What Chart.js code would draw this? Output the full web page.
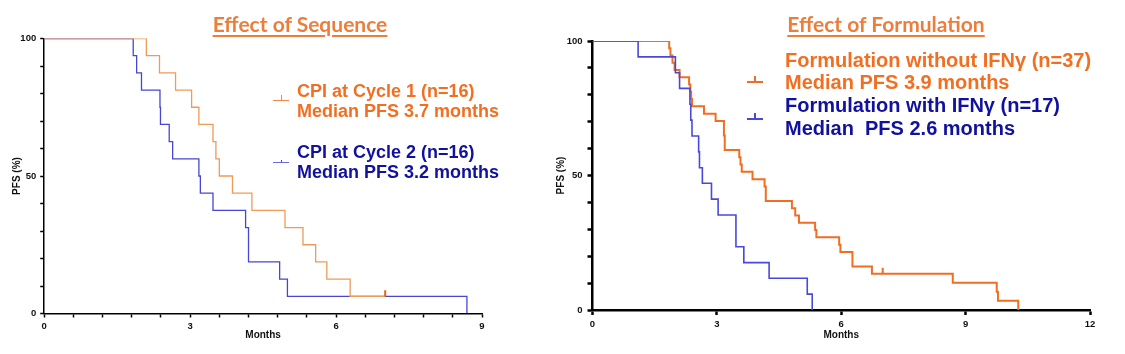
<!DOCTYPE html>
<html><head><meta charset="utf-8">
<script src="https://cdn.jsdelivr.net/npm/chart.js@4.4.1/dist/chart.umd.min.js"></script>
<style>
html,body{margin:0;padding:0;background:#fff;}
#wrap{position:relative;width:1125px;height:354px;overflow:hidden;background:#fff;}
canvas{position:absolute;top:0;}
#c1{left:0;}
#c2{left:548px;}
.title{position:absolute;font-family:Lato,'Liberation Sans',sans-serif;font-weight:700;font-size:21px;line-height:21px;color:#EE7D3A;text-decoration:underline;text-decoration-thickness:2px;text-underline-offset:3px;white-space:nowrap;transform:translateX(-50%);}
.leg{position:absolute;font-family:'Liberation Sans',Arial,sans-serif;font-weight:700;white-space:nowrap;}
.hl{position:absolute;height:1.5px;}
.vt{position:absolute;width:1.5px;}
</style>
</head>
<body>
<div id="wrap">
  <canvas id="c1" width="560" height="354"></canvas>
  <canvas id="c2" width="577" height="354"></canvas>

  <div class="title" style="left:300px;top:13px;">Effect of Sequence</div>
  <div class="title" style="left:886px;top:13px;">Effect of Formulation</div>

  <div class="leg" style="left:297px;top:81px;font-size:18px;line-height:20px;color:#F26F21;">CPI at Cycle 1 (n=16)<br>Median PFS 3.7 months</div>
  <div class="leg" style="left:297px;top:142px;font-size:18px;line-height:20px;color:#1111A0;">CPI at Cycle 2 (n=16)<br>Median PFS 3.2 months</div>
  <div class="hl" style="left:273px;top:99.5px;width:16px;background:#EE8A45;"></div>
  <div class="vt" style="left:280.5px;top:95px;height:5px;background:#EE8A45;"></div>
  <div class="hl" style="left:273px;top:161.5px;width:16px;background:#6A6AD8;"></div>
  <div class="vt" style="left:280.5px;top:160px;height:2px;background:#4646D2;"></div>

  <div class="leg" style="left:785px;top:48.6px;font-size:20px;line-height:22.8px;"><span style="color:#F26F21;">Formulation without IFNγ (n=37)<br>Median PFS 3.9 months</span><br><span style="color:#1111A0;">Formulation with IFNγ (n=17)<br>Median&nbsp; PFS 2.6 months</span></div>
  <div class="hl" style="left:747px;top:81px;width:16px;background:#EF6E22;"></div>
  <div class="vt" style="left:754.3px;top:76px;height:5px;background:#EF6E22;"></div>
  <div class="hl" style="left:747px;top:118px;width:16px;background:#4848DC;"></div>
  <div class="vt" style="left:754.3px;top:113px;height:5px;background:#4848DC;"></div>
</div>
<script>
// ---- Effect of Sequence (left) ----
const seqC1Times = [0, 2.10, 2.37, 2.70, 3.03, 3.18, 3.47, 3.53, 3.60, 3.87, 4.27, 4.95, 5.32, 5.58, 5.81, 6.29, 7.01];
const seqC1Surv  = [100, 93.75, 87.5, 81.25, 75, 68.75, 62.5, 56.25, 50, 43.75, 37.5, 31.25, 25, 18.75, 12.5, 6.25, 6.25];
const seqC1CensorTimes = [7.01];
const seqC1CensorSurv  = [6.25];
const seqC2Times = [0, 1.83, 1.90, 2.00, 2.38, 2.39, 2.57, 2.64, 3.18, 3.21, 3.47, 4.14, 4.20, 4.84, 5.00, 8.69];
const seqC2Surv  = [100, 93.75, 87.5, 81.25, 75, 68.75, 62.5, 56.25, 50, 43.75, 37.5, 31.25, 18.75, 12.5, 6.25, 0];
const seqXTicks = [0, 0.6, 1.2, 1.8, 2.4, 3, 3.6, 4.2, 4.8, 5.4, 6, 6.6, 7.2, 7.8, 8.4, 9];
const seqXLabels = [0, 3, 6, 9];

// ---- Effect of Formulation (right) ----
const formNoIfnTimes = [0, 1.85, 1.88, 1.93, 1.98, 2.10, 2.33, 2.36, 2.38, 2.40, 2.69, 2.97, 3.17, 3.19, 3.54, 3.57, 3.60, 3.86, 4.15, 4.18, 4.81, 4.89, 4.98, 5.37, 5.40, 5.95, 5.98, 6.27, 6.74, 7.00, 8.69, 9.75, 9.78, 10.27];
const formNoIfnSurv  = [100, 97.3, 94.6, 91.9, 89.2, 86.5, 83.8, 81.1, 78.4, 75.7, 73.0, 70.3, 64.9, 59.5, 56.8, 54.1, 51.4, 48.6, 45.9, 40.5, 37.8, 35.1, 32.4, 29.7, 27.0, 24.3, 21.6, 16.2, 13.5, 13.5, 10.1, 6.8, 3.4, 0];
const formNoIfnCensorTimes = [7.00];
const formNoIfnCensorSurv  = [13.5];
const formIfnTimes = [0, 1.10, 2.00, 2.10, 2.35, 2.37, 2.40, 2.56, 2.58, 2.65, 2.87, 3.03, 3.46, 3.65, 4.26, 5.18, 5.30];
const formIfnSurv  = [100, 94.1, 88.2, 82.4, 76.5, 70.6, 64.7, 58.8, 52.9, 47.1, 41.2, 35.3, 23.5, 17.6, 11.8, 5.9, 0];
const formXTicks = [0, 3, 6, 9, 12];
const formXLabels = [0, 3, 6, 9, 12];

const yTicks = [0, 10, 20, 30, 40, 50, 60, 70, 80, 90, 100];
const yLabels = [0, 50, 100];

Chart.defaults.font.family = "'Liberation Sans', Arial, sans-serif";
Chart.defaults.color = '#111';

function pts(xs, ys) { return xs.map((x, i) => ({ x: x, y: ys[i] })); }

function makeChart(id, cfg) {
  const tickFont = { size: 9.5, weight: 'bold' };
  const titleFont = { size: 10, weight: 'bold' };
  return new Chart(document.getElementById(id), {
    type: 'line',
    data: { datasets: cfg.datasets },
    options: {
      responsive: false,
      animation: false,
      events: [],
      layout: { padding: cfg.padding },
      plugins: { legend: { display: false }, tooltip: { enabled: false }, title: { display: false } },
      scales: {
        x: {
          type: 'linear', min: cfg.xMin, max: cfg.xMax,
          afterBuildTicks: s => { s.ticks = cfg.xTicks.map(v => ({ value: v })); },
          afterFit: s => { s.height = cfg.xHeight; },
          ticks: { autoSkip: false, maxRotation: 0, padding: cfg.xPad, font: tickFont, color: '#111',
                   callback: v => cfg.xLabels.includes(v) ? String(v) : '' },
          grid: { display: true, drawOnChartArea: false, drawTicks: true, tickLength: cfg.tickLen, tickWidth: cfg.axisW, tickColor: '#000' },
          border: { display: true, color: '#000', width: cfg.axisW },
          title: { display: true, text: 'Months', color: '#111', font: titleFont, padding: { top: 0, bottom: 13 } }
        },
        y: {
          type: 'linear', min: 0, max: 100,
          afterBuildTicks: s => { s.ticks = yTicks.map(v => ({ value: v })); },
          afterFit: s => { s.width = cfg.yWidth; },
          ticks: { autoSkip: false, padding: cfg.yPad, font: tickFont, color: '#111',
                   callback: v => yLabels.includes(v) ? String(v) : '' },
          grid: { display: true, drawOnChartArea: false, drawTicks: true, tickLength: cfg.tickLen, tickWidth: cfg.axisW, tickColor: '#000' },
          border: { display: true, color: '#000', width: cfg.axisW },
          title: { display: true, text: 'PFS (%)', color: '#111', font: titleFont, padding: { top: cfg.yTitlePad, bottom: 0 } }
        }
      }
    }
  });
}

function kmSet(label, xs, ys, color, w) {
  return { label: label, data: pts(xs, ys), stepped: true, borderColor: color, borderWidth: w,
           pointRadius: 0, fill: false, tension: 0 };
}
function censorSet(label, xs, ys, color, w, r) {
  return { label: label, data: pts(xs, ys), showLine: false, pointStyle: 'dash', rotation: -90,
           pointRadius: r, pointBorderColor: color, pointBorderWidth: w, pointBackgroundColor: color };
}

makeChart('c1', {
  datasets: [
    censorSet('CPI at Cycle 1 censored', seqC1CensorTimes, seqC1CensorSurv, '#E8601E', 2, 6),
    kmSet('CPI at Cycle 1 (n=16)', seqC1Times, seqC1Surv, '#EE9A58', 1.3),
    kmSet('CPI at Cycle 2 (n=16)', seqC2Times, seqC2Surv, '#4646D2', 1.3)
  ],
  padding: { left: 0, right: 78, top: 38.5, bottom: 0 },
  xMin: 0, xMax: 9, xTicks: seqXTicks, xLabels: seqXLabels,
  xHeight: 40.5, yWidth: 44.2, tickLen: 4, axisW: 1.5, xPad: 3, yPad: 4, yTitlePad: 11
});

makeChart('c2', {
  datasets: [
    kmSet('Formulation with IFNγ (n=17)', formIfnTimes, formIfnSurv, '#4848DC', 1.6),
    censorSet('Formulation without IFNγ censored', formNoIfnCensorTimes, formNoIfnCensorSurv, '#EF6E22', 2, 6),
    kmSet('Formulation without IFNγ (n=37)', formNoIfnTimes, formNoIfnSurv, '#EF6E22', 2)
  ],
  padding: { left: 0, right: 35, top: 41, bottom: 0 },
  xMin: 0, xMax: 12, xTicks: formXTicks, xLabels: formXLabels,
  xHeight: 44, yWidth: 44.5, tickLen: 5, axisW: 2.5, xPad: 4, yPad: 5, yTitlePad: 7
});
</script>
</body></html>
